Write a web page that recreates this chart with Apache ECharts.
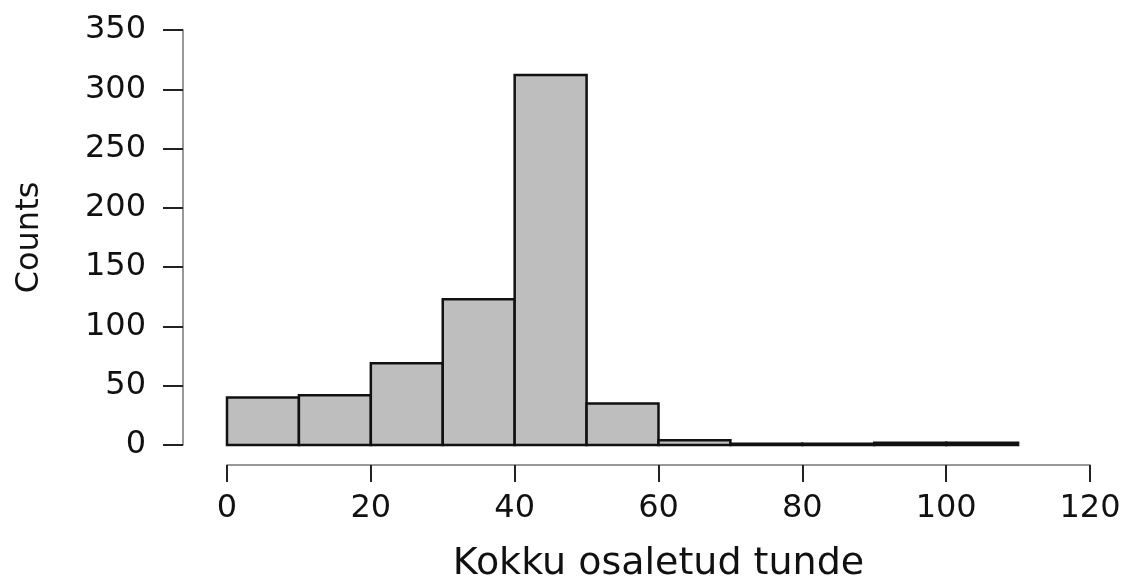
<!DOCTYPE html>
<html>
<head>
<meta charset="utf-8">
<script src="https://cdn.jsdelivr.net/npm/echarts@6/dist/echarts.min.js"></script>
<style>
  html, body { margin: 0; padding: 0; background: #fff; }
  #chart { width: 1128px; height: 578px; }
</style>
</head>
<body>
<div id="chart"></div>
<script>
// histogrammi vahemikud ja sagedused
const binStarts = [0, 10, 20, 30, 40, 50, 60, 70, 80, 90, 100];
const binEnds = [10, 20, 30, 40, 50, 60, 70, 80, 90, 100, 110];
const counts = [40, 42, 69, 123, 312, 35, 4, 1, 1, 2, 2];

const xTicks = [0, 20, 40, 60, 80, 100, 120];
const yTicks = [0, 50, 100, 150, 200, 250, 300, 350];

const binData = counts.map((c, i) => [binStarts[i], binEnds[i], c]);

const chart = echarts.init(document.getElementById('chart'));
const font = 'DejaVu Sans, Arial, sans-serif';

const xMin = xTicks[0], xMax = xTicks[xTicks.length - 1];
const yMin = yTicks[0], yMax = yTicks[yTicks.length - 1];

// R-stiilis teljed: eraldi gridid, et teljed oleksid joonisest nihutatud
const hidden = { show: false };
const lineStyle = { color: '#777', width: 1.5 };
const tickStyle = { color: '#222', width: 2 };

chart.setOption({
  animation: false,
  grid: [
    // 0: tulbad
    { left: 227, right: 38, top: 30, bottom: 133, outerBoundsMode: 'none' },
    // 1: y-telg
    { left: 183, width: 1, top: 30, bottom: 133, outerBoundsMode: 'none' },
    // 2: x-telg
    { left: 227, right: 38, top: 30, bottom: 113, outerBoundsMode: 'none' }
  ],
  xAxis: [
    { gridIndex: 0, type: 'value', min: xMin, max: xMax, show: false },
    { gridIndex: 1, type: 'value', min: 0, max: 1, show: false },
    {
      gridIndex: 2, type: 'value', min: xMin, max: xMax, interval: 20,
      name: 'Kokku osaletud tunde',
      nameLocation: 'middle',
      nameGap: 80,
      nameMoveOverlap: false,
      nameTextStyle: { fontSize: 38, color: '#111', fontFamily: font },
      axisLine: { show: true, lineStyle },
      axisTick: { show: true, length: 17, lineStyle: tickStyle },
      axisLabel: { fontSize: 32, color: '#111', margin: 28, fontFamily: font },
      splitLine: hidden
    }
  ],
  yAxis: [
    { gridIndex: 0, type: 'value', min: yMin, max: yMax, show: false },
    {
      gridIndex: 1, type: 'value', min: yMin, max: yMax, interval: 50,
      name: 'Counts',
      nameLocation: 'middle',
      nameGap: 137,
      nameRotate: 90,
      nameMoveOverlap: false,
      nameTextStyle: { fontSize: 32, color: '#111', fontFamily: font },
      axisLine: { show: true, lineStyle },
      axisTick: { show: true, length: 20, lineStyle: tickStyle },
      axisLabel: { fontSize: 32, color: '#111', margin: 37, fontFamily: font },
      splitLine: hidden
    },
    { gridIndex: 2, type: 'value', min: 0, max: 1, show: false }
  ],
  series: [{
    type: 'custom',
    xAxisIndex: 0,
    yAxisIndex: 0,
    data: binData,
    renderItem: (params, api) => {
      const p0 = api.coord([api.value(0), 0]);
      const p1 = api.coord([api.value(1), api.value(2)]);
      return {
        type: 'rect',
        shape: { x: p0[0], y: p1[1], width: p1[0] - p0[0], height: p0[1] - p1[1] },
        style: { fill: '#bebebe', stroke: '#111', lineWidth: 2.5 }
      };
    },
    encode: { x: [0, 1], y: 2 }
  }]
});
</script>
</body>
</html>
